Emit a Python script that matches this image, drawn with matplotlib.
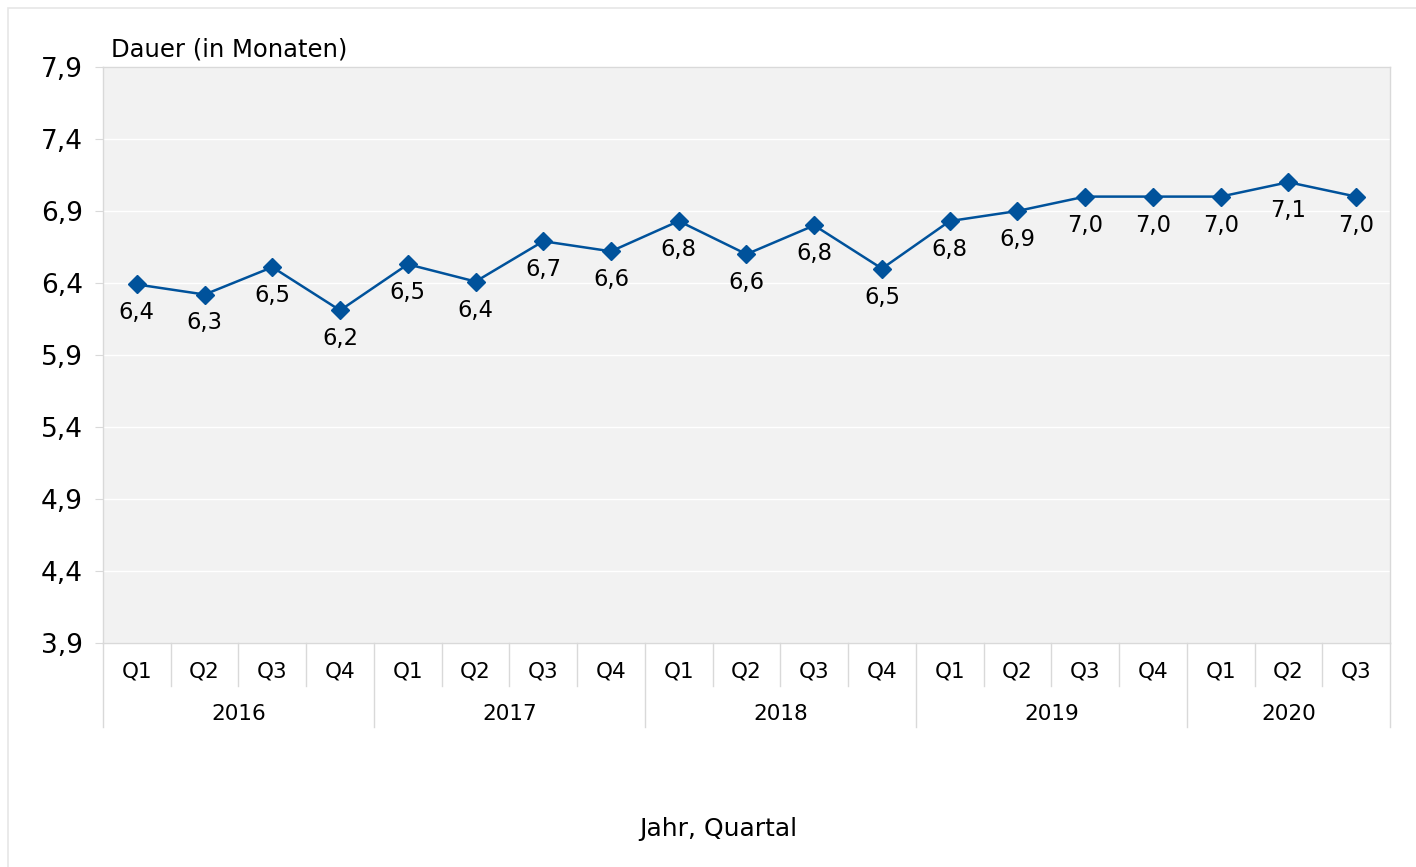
import matplotlib.pyplot as plt
import matplotlib.transforms as mtransforms
from matplotlib.patches import Rectangle

# data
years = ['2016', '2017', '2018', '2019', '2020']
quarters_per_year = [4, 4, 4, 4, 3]
quarter_labels = ['Q1', 'Q2', 'Q3', 'Q4'] * 4 + ['Q1', 'Q2', 'Q3']
dauer = [6.39, 6.32, 6.51, 6.21, 6.53, 6.41, 6.69, 6.62, 6.83, 6.60,
         6.80, 6.50, 6.83, 6.90, 7.00, 7.00, 7.00, 7.10, 7.00]
y_ticks = [3.9, 4.4, 4.9, 5.4, 5.9, 6.4, 6.9, 7.4, 7.9]

blue = '#00529b'
grey = '#d9d9d9'

plt.rcParams['font.family'] = ['DejaVu Sans']

fig = plt.figure(figsize=(14.16, 8.67), dpi=100)
ax = fig.add_axes([103 / 1416, 1 - 643 / 867, 1287 / 1416, 576 / 867])
ax.set_facecolor('#f2f2f2')

x = list(range(len(dauer)))
ax.plot(x, dauer, color=blue, lw=1.8, marker='D', ms=9.5, mfc=blue, mec=blue, zorder=3)
for xi, v in zip(x, dauer):
    ax.annotate(f'{v:.1f}'.replace('.', ','), (xi, v), xytext=(0, -20.5),
                textcoords='offset points', ha='center', va='center', fontsize=16.3)

ax.set_xlim(-0.5, len(dauer) - 0.5)
ax.set_ylim(3.9, 7.9)
ax.set_yticks(y_ticks)
ax.set_yticklabels([f'{t:.1f}'.replace('.', ',') for t in y_ticks], fontsize=19)
ax.tick_params(axis='y', length=6, color=grey, pad=8.5)
ax.grid(axis='y', color='white', lw=1)
ax.set_axisbelow(True)
ax.set_xticks([])
for s in ax.spines.values():
    s.set_color(grey)
    s.set_linewidth(1)

# two-level category axis
trans = mtransforms.blended_transform_factory(ax.transData, ax.transAxes)
for xi, q in zip(x, quarter_labels):
    ax.text(xi, -0.05, q, transform=trans, ha='center', va='center', fontsize=15.5)
start = 0
bounds = [-0.5]
for yr, n in zip(years, quarters_per_year):
    ax.text(start + (n - 1) / 2, -0.123, yr, transform=trans, ha='center', va='center', fontsize=15.5)
    start += n
    bounds.append(start - 0.5)
for b in range(len(dauer) + 1):
    xb = b - 0.5
    low = -0.1458 if xb in bounds else -0.0747
    ax.plot([xb, xb], [0, low], transform=trans, color=grey, lw=1, clip_on=False)

ax.text(0.006, 1.031, 'Dauer (in Monaten)', transform=ax.transAxes, ha='left', va='center', fontsize=17.5)
fig.text(718 / 1416, 1 - 829 / 867, 'Jahr, Quartal', ha='center', va='center', fontsize=18)

fig.patches.append(Rectangle((8 / 1416, -0.01), 1.0, 1 - 8 / 867 + 0.01, transform=fig.transFigure,
                             fill=False, edgecolor='#e6e6e6', lw=1.2))

fig.savefig('out.png', dpi=100)
